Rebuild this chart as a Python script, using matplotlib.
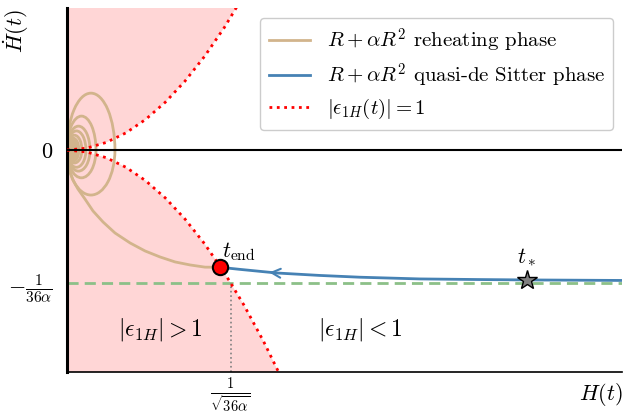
import numpy as np
import matplotlib
matplotlib.use('Agg')
import matplotlib.pyplot as plt
from matplotlib.patches import Arc

plt.rcParams['mathtext.fontset'] = 'cm'
plt.rcParams['font.family'] = ['cmr10', 'DejaVu Serif']
plt.rcParams['axes.unicode_minus'] = False

# alpha = 1 units: H in 1/sqrt(alpha), Hdot in 1/alpha
# |eps_1H| = 1 boundary
H_eps = [0.0, 0.02, 0.04, 0.06, 0.08, 0.10, 0.12, 0.14, 0.16, 0.18, 0.20, 0.22, 0.24]
Hd_eps = [0.0, 0.0004, 0.0016, 0.0036, 0.0064, 0.0100, 0.0144, 0.0196, 0.0256,
          0.0324, 0.0400, 0.0484, 0.0576]

# quasi-de Sitter branch (t_end -> right edge)
H_qds = [0.1555, 0.1758, 0.2134, 0.2571, 0.2978, 0.3587, 0.4197, 0.4675, 0.566]
Hd_qds = [-0.0245, -0.02494, -0.0257, -0.02621, -0.02658, -0.02694, -0.02707,
          -0.02715, -0.02726]

# reheating branch from t_end towards the origin
H_reh = [0.1555, 0.1405, 0.1253, 0.1100, 0.0947, 0.0794, 0.0642, 0.0489, 0.0367,
         0.0265, 0.0183, 0.0112, 0.0061, 0.0031, 0.0010, 0.0]
Hd_reh = [-0.0245, -0.02448, -0.02402, -0.02339, -0.02235, -0.02109, -0.01942,
          -0.01734, -0.01504, -0.01274, -0.01023, -0.00815, -0.00627, -0.00459,
          -0.00272, -0.0004]

# oscillation loops around the origin: width in H, top and bottom in Hdot
loop_w = [0.0488, 0.0295, 0.0234, 0.0193, 0.0152, 0.0122, 0.0102, 0.0081, 0.0061,
          0.0051, 0.0041, 0.0030, 0.0020]
loop_top = [0.0119, 0.0071, 0.0050, 0.0040, 0.0031, 0.0025, 0.0021, 0.0018, 0.0015,
            0.0013, 0.0010, 0.0008, 0.0006]
loop_bot = [0.0094, 0.0058, 0.0044, 0.0036, 0.0027, 0.0023, 0.0019, 0.0017, 0.0014,
            0.0011, 0.0009, 0.0007, 0.0005]

t_end = (0.1555, -0.0245)
t_star = (0.4675, -0.02715)
hd_sr = -1 / 36
h_x = 1 / 6

xmax, ymin, ymax = 0.565, -0.0464, 0.0297

fig = plt.figure(figsize=(6.23, 4.15), dpi=100)
ax = fig.add_axes([0.1075, 0.1036, 0.8915, 0.8771])

H_eps = np.array(H_eps)
Hd_eps = np.array(Hd_eps)
ax.fill_between(H_eps, Hd_eps, 1, color='red', alpha=0.16, lw=0, zorder=0)
ax.fill_between(H_eps, -1, -Hd_eps, color='red', alpha=0.16, lw=0, zorder=0)

ax.axhline(hd_sr, color='#8cc088', ls='--', lw=2, dashes=(4, 2.2), zorder=1)
ax.plot([h_x, h_x], [ymin, hd_sr], color='gray', ls=':', lw=1.2, zorder=1)

for w, tp, bt in zip(loop_w, loop_top, loop_bot):
    ax.add_patch(Arc((w / 2, 0), w, 2 * tp, theta1=0, theta2=180, color='tan', lw=2, zorder=2))
    ax.add_patch(Arc((w / 2, 0), w, 2 * bt, theta1=180, theta2=360, color='tan', lw=2, zorder=2))

ax.plot(H_reh, Hd_reh, color='tan', lw=2, zorder=2, label=r'$R+\alpha R^2$ reheating phase')
ax.plot(H_qds, Hd_qds, color='steelblue', lw=2, zorder=2,
        label=r'$R+\alpha R^2$ quasi-de Sitter phase')
ax.annotate('', xy=(0.203, -0.02555), xytext=(0.215, -0.02572),
            arrowprops=dict(arrowstyle='->', color='steelblue', lw=1.5, mutation_scale=16))

ax.plot(H_eps, Hd_eps, color='red', ls=':', lw=2, zorder=3, label=r'$|\epsilon_{1H}(t)|=1$')
ax.plot(H_eps, -Hd_eps, color='red', ls=':', lw=2, zorder=3)

ax.axhline(0, color='black', lw=1.5, zorder=3)

ax.plot(*t_end, 'o', ms=11, mfc='red', mec='black', mew=1.5, zorder=5)
ax.plot(*t_star, '*', ms=15, mfc='gray', mec='black', mew=1, zorder=5)
ax.text(0.158, -0.0224, r'$t_{\rm end}$', fontsize=16, zorder=5)
ax.text(t_star[0], t_star[1] + 0.0035, r'$t_*$', fontsize=16, ha='center')

ax.text(0.0947, -0.0376, r'$|\epsilon_{1H}|>1$', fontsize=17, ha='center', va='center')
ax.text(0.298, -0.0376, r'$|\epsilon_{1H}|<1$', fontsize=17, ha='center', va='center')

ax.set_xlim(0, xmax)
ax.set_ylim(ymin, ymax)
ax.set_xticks([h_x])
ax.set_xticklabels([r'$\frac{1}{\sqrt{36\alpha}}$'], fontsize=15)
ax.set_yticks([hd_sr, 0])
ax.set_yticklabels([r'$-\frac{1}{36\alpha}$', r'$0$'], fontsize=16)
ax.tick_params(axis='x', length=0, pad=3)
ax.tick_params(axis='y', length=0, pad=10)
ax.set_xlabel(r'$H(t)$', fontsize=16, loc='right')
ax.xaxis.set_label_coords(1.0, -0.025)
ax.set_ylabel(r'$\dot{H}(t)$', fontsize=16, loc='top')
ax.yaxis.set_label_coords(-0.065, 0.995)

for s in ['top', 'right']:
    ax.spines[s].set_visible(False)
ax.spines['left'].set_linewidth(2.2)
ax.spines['bottom'].set_linewidth(1.2)

ax.legend(loc='upper right', fontsize=15, framealpha=1, edgecolor='#cccccc',
          labelspacing=0.35, bbox_to_anchor=(0.984, 0.9725), borderaxespad=0)

fig.savefig('out.png', dpi=100)
